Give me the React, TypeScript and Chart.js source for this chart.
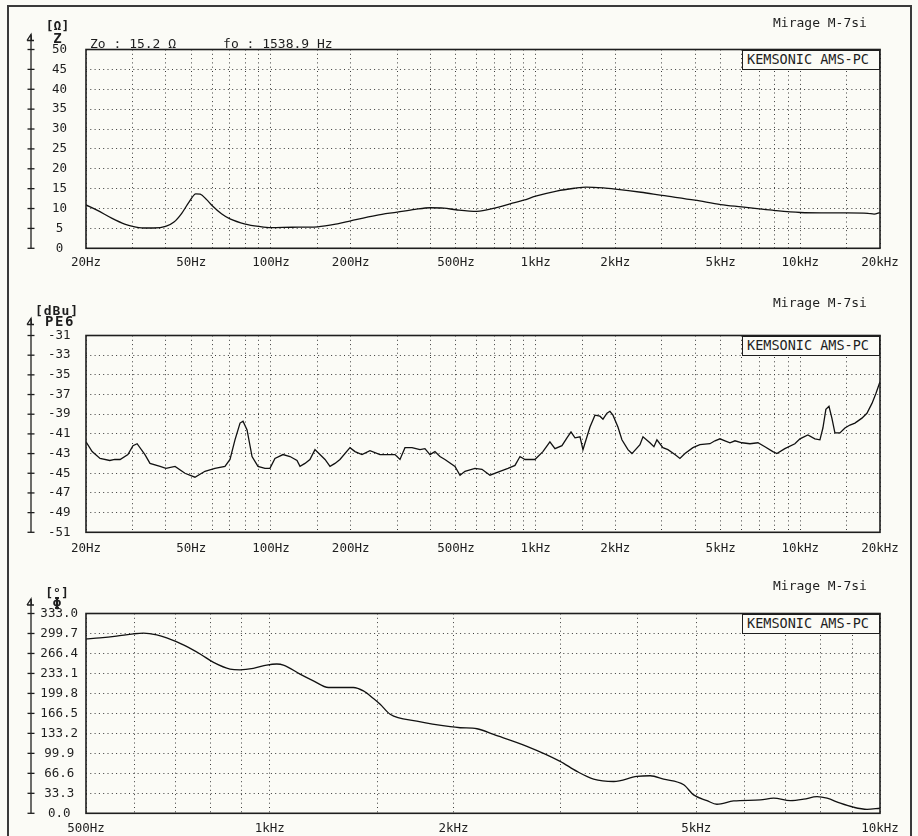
import React, { useEffect, useRef } from "react";
import { Chart, registerables } from "chart.js";

Chart.register(...registerables);

// ---------- data ----------
const zFreq = [20, 22, 25, 28, 30, 33, 36, 40, 43, 46, 49, 52, 54, 57, 60, 65, 70, 80, 90, 100, 120, 150, 180, 200, 250, 300, 350, 400, 450, 500, 600, 700, 800, 900, 1000, 1200, 1400, 1550, 1800, 2000, 2500, 3000, 4000, 5000, 6000, 7000, 8000, 10000, 12000, 15000, 18000, 19000, 20000];
const zOhm = [10.9, 9.6, 7.6, 6.1, 5.5, 5.1, 5.1, 5.5, 6.6, 8.8, 11.6, 13.7, 13.6, 12.3, 10.7, 8.7, 7.4, 6.1, 5.5, 5.2, 5.3, 5.4, 6.2, 6.9, 8.3, 9.1, 9.8, 10.2, 10.1, 9.7, 9.3, 10.1, 11.2, 12.1, 13.1, 14.4, 15.1, 15.4, 15.2, 14.9, 14.1, 13.3, 12.1, 11.0, 10.4, 9.9, 9.5, 9.0, 8.9, 8.9, 8.8, 8.6, 9.0];

const peFreq = [20, 21.1, 22.6, 24.6, 25.7, 26.9, 28.8, 30.1, 31.2, 33.4, 34.9, 38.1, 40.1, 43.4, 47.3, 51.6, 56.3, 61.4, 67, 70, 73.1, 76.4, 78.4, 81.2, 84.8, 89.3, 94.9, 99.1, 103.5, 111, 118, 125.4, 128.7, 134.4, 140.3, 146.6, 153.1, 160, 167.1, 174.5, 182.2, 198.8, 207.7, 220.7, 236.6, 258.1, 294.1, 307.2, 320.8, 340.9, 365.5, 381.7, 398.7, 416.4, 434.9, 454.2, 495.6, 517.8, 540.7, 589.8, 626.8, 672, 733, 786, 835.4, 872.5, 911.3, 993.6, 1065, 1132, 1183, 1257, 1313, 1360, 1408, 1471, 1509, 1604, 1675, 1749, 1796, 1860, 1908, 1959, 2046, 2118, 2232, 2311, 2478, 2544, 2702, 2798, 2872, 3025, 3160, 3359, 3508, 3665, 3929, 4174, 4555, 4758, 4970, 5192, 5423, 5664, 6020, 6452, 6915, 7349, 7876, 8155, 8740, 9539, 9965, 10680, 11350, 11860, 12170, 12490, 12830, 13160, 13510, 14110, 14740, 15400, 16080, 17090, 17850, 18650, 19300, 20000];
const peDbu = [-41.8, -42.8, -43.5, -43.7, -43.6, -43.6, -43.1, -42.2, -42.0, -43.1, -44.0, -44.3, -44.5, -44.3, -45.0, -45.4, -44.8, -44.5, -44.3, -43.6, -41.6, -39.9, -39.7, -40.6, -43.3, -44.3, -44.5, -44.5, -43.5, -43.1, -43.3, -43.7, -44.3, -44.0, -43.6, -42.6, -43.1, -43.6, -44.3, -44.0, -43.6, -42.4, -42.8, -43.1, -42.7, -43.1, -43.1, -43.6, -42.4, -42.4, -42.6, -42.5, -43.1, -42.8, -43.3, -43.6, -44.3, -45.2, -44.8, -44.5, -44.6, -45.2, -44.8, -44.5, -44.2, -43.3, -43.6, -43.6, -42.8, -41.8, -42.5, -42.2, -41.4, -40.8, -41.4, -41.3, -42.6, -40.3, -39.1, -39.2, -39.5, -38.9, -38.7, -39.1, -40.3, -41.6, -42.6, -43.0, -42.1, -41.3, -41.9, -42.3, -41.6, -42.4, -42.6, -43.1, -43.5, -43.0, -42.4, -42.1, -42.0, -41.7, -41.5, -41.7, -41.9, -41.7, -41.9, -42.0, -41.9, -42.3, -42.8, -43.0, -42.5, -42.0, -41.5, -41.1, -41.5, -41.6, -40.4, -38.5, -38.2, -39.4, -40.9, -40.9, -40.4, -40.1, -39.9, -39.4, -38.9, -37.9, -36.9, -35.7];

const phFreq = [500, 527, 561, 598, 621, 653, 678, 722, 769, 809, 861, 894, 940, 989, 1027, 1053, 1121, 1179, 1248, 1371, 1424, 1479, 1517, 1575, 1742, 1976, 2052, 2186, 2327, 2639, 2992, 3187, 3394, 3661, 3997, 4203, 4420, 4769, 4950, 5206, 5406, 5757, 6366, 6694, 7133, 7500, 7886, 8189, 8609, 9052, 9523, 10000];
const phDeg = [290.7, 292.4, 295.3, 299.1, 300.3, 297.4, 292.4, 280.7, 265.6, 251.6, 240.4, 239.2, 241.6, 247.1, 248.8, 247.1, 232.0, 220.8, 209.7, 209.7, 204.0, 191.2, 181.7, 165.0, 153.7, 144.3, 142.6, 140.9, 131.4, 111.7, 86.6, 69.8, 57.0, 53.0, 61.4, 62.6, 57.0, 47.5, 30.7, 21.1, 15.1, 20.6, 22.3, 25.2, 21.1, 23.5, 27.8, 25.2, 16.8, 10.1, 6.7, 8.4];

const audioGridHz = [20, 30, 40, 50, 60, 70, 80, 90, 100, 150, 200, 300, 400, 500, 600, 700, 800, 900, 1000, 1500, 2000, 3000, 4000, 5000, 6000, 7000, 8000, 9000, 10000, 15000, 20000];
const audioLabelHz = [20, 50, 100, 200, 500, 1000, 2000, 5000, 10000, 20000];
const phaseGridHz = [500, 600, 700, 800, 900, 1000, 1500, 2000, 3000, 4000, 5000, 6000, 7000, 8000, 9000, 10000];
const phaseLabelHz = [500, 1000, 2000, 5000, 10000];

const zTicks = [0, 5, 10, 15, 20, 25, 30, 35, 40, 45, 50];
const peTicks = [-51, -49, -47, -45, -43, -41, -39, -37, -35, -33, -31];
const phTicks = [0, 33.3, 66.6, 99.9, 133.2, 166.5, 199.8, 233.1, 266.4, 299.7, 333.0];

// ---------- styling ----------
const MONO = "'DejaVu Sans Mono', 'Liberation Mono', monospace";
const INK = "#1e1e1e";
const BG = "#fbfbf6";
const W = 918;

function fmtHz(v: number): string {
  return v >= 1000 ? v / 1000 + "kHz" : v + "Hz";
}

type Spec = {
  canvasTop: number;
  canvasH: number;
  plotTop: number;
  plotBottom: number;
  xs: number[];
  ys: number[];
  xGrid: number[];
  xLabels: number[];
  yTicks: number[];
  yFmt: (v: number) => string;
  yPad: number;
  xPad: number;
  arrowGap: number;
  smooth: boolean;
};

function decorPlugin(spec: Spec) {
  return {
    id: "decor",
    afterDraw(chart: any) {
      const { ctx, chartArea: a } = chart;
      const y = chart.scales.y;
      ctx.save();
      ctx.setLineDash([]);
      ctx.strokeStyle = INK;
      ctx.lineWidth = 1.6;
      ctx.strokeRect(a.left, a.top, a.right - a.left, a.bottom - a.top);
      // detached vertical axis with arrow
      const ax = 31;
      const tip = a.top - spec.arrowGap;
      ctx.lineWidth = 1.3;
      ctx.beginPath();
      ctx.moveTo(ax, tip);
      ctx.lineTo(ax, a.bottom);
      ctx.stroke();
      ctx.beginPath();
      ctx.moveTo(ax - 4, tip + 6);
      ctx.lineTo(ax, tip);
      ctx.lineTo(ax + 0.5, tip + 6);
      ctx.moveTo(ax - 4, tip + 6);
      ctx.lineTo(ax + 3, tip + 6);
      ctx.stroke();
      y.ticks.forEach((t: any) => {
        const py = y.getPixelForValue(t.value);
        ctx.beginPath();
        ctx.moveTo(ax - 3.5, py);
        ctx.lineTo(ax + 3.5, py);
        ctx.stroke();
      });
      ctx.restore();
    },
  };
}

function makeConfig(spec: Spec): any {
  const plotBottomLocal = spec.plotBottom - spec.canvasTop;
  const plotTopLocal = spec.plotTop - spec.canvasTop;
  const font = { family: MONO, size: 12.5 };
  const gridCommon = { color: "#3c3c3c", lineWidth: 1, drawTicks: false };
  return {
    type: "line",
    data: {
      datasets: [
        {
          data: spec.xs.map((x, i) => ({ x, y: spec.ys[i] })),
          borderColor: "#111",
          borderWidth: 1.3,
          pointRadius: 0,
          fill: false,
          tension: spec.smooth ? 0.4 : 0,
          cubicInterpolationMode: spec.smooth ? "monotone" : "default",
        },
      ],
    },
    options: {
      responsive: false,
      animation: false,
      events: [],
      layout: { padding: { left: 0, right: W - 880, top: plotTopLocal, bottom: 0 } },
      plugins: { legend: { display: false }, tooltip: { enabled: false }, title: { display: false } },
      scales: {
        x: {
          type: "logarithmic",
          min: spec.xGrid[0],
          max: spec.xGrid[spec.xGrid.length - 1],
          afterBuildTicks: (s: any) => {
            s.ticks = spec.xGrid.map((v) => ({ value: v }));
          },
          afterFit: (s: any) => {
            s.height = spec.canvasH - plotBottomLocal;
          },
          ticks: {
            autoSkip: false,
            maxRotation: 0,
            minRotation: 0,
            padding: spec.xPad,
            font,
            color: INK,
            callback: (v: number) => (spec.xLabels.includes(v) ? fmtHz(v) : ""),
          },
          grid: gridCommon,
          border: { display: false, dash: [1, 3.3] },
        },
        y: {
          type: "linear",
          min: spec.yTicks[0],
          max: spec.yTicks[spec.yTicks.length - 1],
          afterBuildTicks: (s: any) => {
            s.ticks = spec.yTicks.map((v) => ({ value: v }));
          },
          afterFit: (s: any) => {
            s.width = 86;
          },
          ticks: {
            crossAlign: "center",
            padding: spec.yPad,
            font,
            color: INK,
            callback: (v: number) => spec.yFmt(v),
          },
          grid: gridCommon,
          border: { display: false, dash: [1, 3.3] },
        },
      },
    },
    plugins: [decorPlugin(spec)],
  };
}

const specs: Spec[] = [
  {
    canvasTop: 0,
    canvasH: 280,
    plotTop: 49.5,
    plotBottom: 248.3,
    xs: zFreq,
    ys: zOhm,
    xGrid: audioGridHz,
    xLabels: audioLabelHz,
    yTicks: zTicks,
    yFmt: (v) => String(v),
    yPad: 19,
    xPad: 7,
    arrowGap: 15,
    smooth: true,
  },
  {
    canvasTop: 280,
    canvasH: 280,
    plotTop: 335.5,
    plotBottom: 532.3,
    xs: peFreq,
    ys: peDbu,
    xGrid: audioGridHz,
    xLabels: audioLabelHz,
    yTicks: peTicks,
    yFmt: (v) => String(v),
    yPad: 15.5,
    xPad: 9,
    arrowGap: 17,
    smooth: false,
  },
  {
    canvasTop: 560,
    canvasH: 276,
    plotTop: 613.5,
    plotBottom: 813.3,
    xs: phFreq,
    ys: phDeg,
    xGrid: phaseGridHz,
    xLabels: phaseLabelHz,
    yTicks: phTicks,
    yFmt: (v) => v.toFixed(1),
    yPad: 8,
    xPad: 8,
    arrowGap: 14.5,
    smooth: true,
  },
];

function Panel({ spec }: { spec: Spec }) {
  const ref = useRef<HTMLCanvasElement>(null);
  useEffect(() => {
    const chart = new Chart(ref.current as HTMLCanvasElement, makeConfig(spec));
    return () => chart.destroy();
  }, [spec]);
  return (
    <canvas
      ref={ref}
      width={W}
      height={spec.canvasH}
      style={{ position: "absolute", left: 0, top: spec.canvasTop, width: W, height: spec.canvasH }}
    />
  );
}

function Txt(props: { x: number; y: number; text: string; size?: number; bold?: boolean; center?: boolean; spacing?: number }) {
  const size = props.size ?? 13;
  return (
    <div
      style={{
        position: "absolute",
        left: props.x,
        top: props.y,
        transform: `translate(${props.center ? "-50%" : "0"}, -50%)`,
        fontFamily: MONO,
        fontSize: size,
        lineHeight: `${size}px`,
        fontWeight: props.bold ? 700 : 400,
        letterSpacing: props.spacing ?? 0,
        color: INK,
        whiteSpace: "pre",
      }}
    >
      {props.text}
    </div>
  );
}

function Kem({ top }: { top: number }) {
  return (
    <div
      style={{
        position: "absolute",
        left: 742,
        top,
        width: 138,
        height: 20,
        boxSizing: "border-box",
        border: `1.5px solid ${INK}`,
        background: BG,
        fontFamily: MONO,
        fontSize: 13.5,
        lineHeight: "17px",
        color: INK,
        paddingLeft: 4,
        whiteSpace: "pre",
      }}
    >
      KEMSONIC AMS-PC
    </div>
  );
}

export default function App() {
  return (
    <div style={{ position: "absolute", left: 0, top: 0, width: W, height: 836, background: BG, overflow: "hidden" }}>
      <div
        style={{
          position: "absolute",
          left: 7,
          top: 5,
          width: 905,
          height: 900,
          boxSizing: "border-box",
          border: "2px solid #3a3a3a",
        }}
      />
      {specs.map((s, i) => (
        <Panel key={i} spec={s} />
      ))}
      {/* panel 1 texts */}
      <Txt x={57.5} y={25} text="[Ω]" bold center />
      <Txt x={57.5} y={38} text="Z" bold center size={14} />
      <Txt x={90} y={42.5} text={"Zo : 15.2 Ω      fo : 1538.9 Hz"} />
      <Txt x={773} y={21.5} text="Mirage M-7si" />
      <Kem top={49.5} />
      {/* panel 2 texts */}
      <Txt x={57} y={310} text="[dBu]" bold center spacing={1} />
      <Txt x={60} y={321} text="PE6" bold center size={14} spacing={1.5} />
      <Txt x={773} y={302} text="Mirage M-7si" />
      <Kem top={335.5} />
      {/* panel 3 texts */}
      <Txt x={57} y={592} text="[°]" bold center />
      <Txt x={57} y={603.5} text="Φ" bold center size={15} />
      <Txt x={773} y={585} text="Mirage M-7si" />
      <Kem top={613.5} />
    </div>
  );
}
